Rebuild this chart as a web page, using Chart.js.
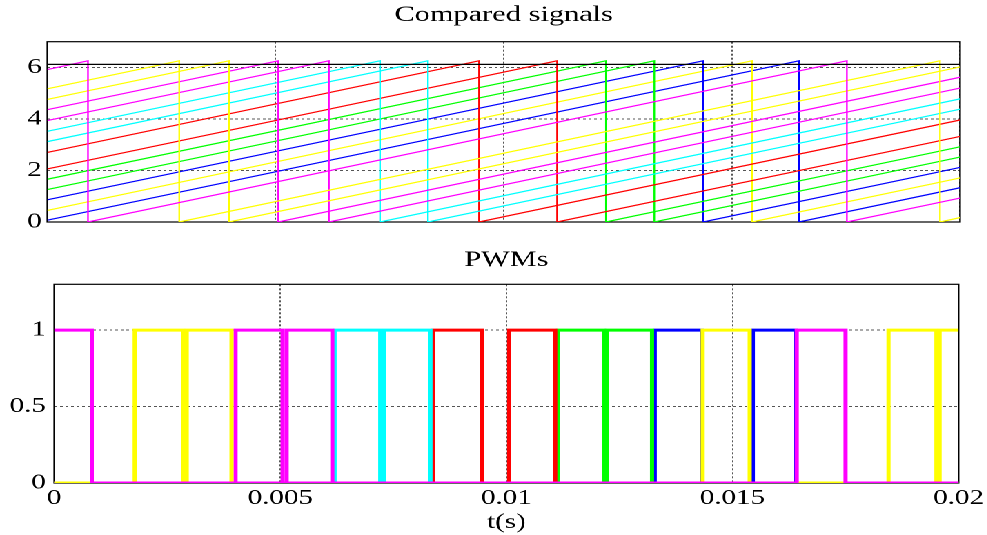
<!DOCTYPE html>
<html>
<head>
<meta charset="utf-8">
<title>Compared signals / PWMs</title>
<script src="https://cdn.jsdelivr.net/npm/chart.js@4.4.0/dist/chart.umd.min.js"></script>
<style>
    html, body { margin: 0; padding: 0; background: #fff; overflow: hidden; }
    /* the original figure is stretched sideways, so the whole drawing is too */
    #wrap { position: absolute; left: 0; top: 0; width: 716px; height: 535px; transform: scaleX(1.38); transform-origin: 0 0; }
    #chartTop { position: absolute; left: 0; top: 0; }
    #chartBottom { position: absolute; left: 0; top: 240px; }
</style>
</head>
<body>
<div id="wrap">
    <canvas id="chartTop" width="716" height="240"></canvas>
    <canvas id="chartBottom" width="716" height="295"></canvas>
</div>
<script>
// ==========================================
// DATA
// ==========================================
const timeRange = [0, 0.02];
const xTicks = [0, 0.005, 0.01, 0.015, 0.02];
const xTickLabels = ["0", "0.005", "0.01", "0.015", "0.02"];

// top plot: sawtooth carriers + reference level
const topYTicks = [0, 2, 4, 6];
const topYTickLabels = ["0", "2", "4", "6"];
const topYRange = [0, 7];
const refLevel = 6.12;
const carrierPeak = 6.26;
const carrierColors = ["#ff00ff", "#ffff00", "#ffff00", "#ff00ff", "#ff00ff", "#00ffff", "#00ffff",
                       "#ff0000", "#ff0000", "#00ff00", "#00ff00", "#0000ff", "#ffff00", "#0000ff"];
const carrierStart = [5.92, 5.17, 4.76, 4.36, 3.94, 3.52, 3.12, 2.70, 2.06, 1.66, 1.26, 0.86, 0.45, 0.07];
const carrierDrops = [[0.00089, 0.01752], [0.00289, 0.01956], [0.00398], [0.00506], [0.00617], [0.00729], [0.00834],
                      [0.00946], [0.01117], [0.01224], [0.0133], [0.01437], [0.01544], [0.01647]];
const carrierEnd = [0.93, 0.17, 6.02, 5.62, 5.20, 4.78, 4.38, 3.96, 3.32, 2.92, 2.52, 2.12, 1.71, 1.33];

// bottom plot: PWM pulses [rise, fall] per signal (first one is drawn on top)
const pwmYTicks = [0, 0.5, 1];
const pwmYTickLabels = ["0", "0.5", "1"];
const pwmYRange = [0, 1.3];
const pwmColors = ["#ff00ff", "#ffff00", "#ffff00", "#ffff00", "#ff00ff", "#ff00ff", "#00ffff",
                   "#00ffff", "#ff0000", "#ff0000", "#00ff00", "#00ff00", "#0000ff", "#0000ff"];
const pwmPulses = [
    [[0, 0.00083], [0.01642, 0.0175]],
    [[0.00178, 0.00285], [0.01845, 0.01951]],
    [[0.00293, 0.00392], [0.01958, 0.02]],
    [[0.01434, 0.01538]],
    [[0.00401, 0.00505]],
    [[0.00514, 0.00615]],
    [[0.0062, 0.00721]],
    [[0.0073, 0.00832]],
    [[0.00838, 0.00946]],
    [[0.01006, 0.01108]],
    [[0.01114, 0.01216]],
    [[0.01222, 0.01322]],
    [[0.01328, 0.01432]],
    [[0.01545, 0.0164]]
];

const fontFamily = "'Liberation Serif', 'Times New Roman', serif";

document.addEventListener("DOMContentLoaded", () => {

    // black frame round the plot area
    const framePlugin = {
        id: "frame",
        beforeDatasetsDraw(chart) {
            const { ctx, chartArea: a } = chart;
            ctx.save();
            ctx.strokeStyle = "#000";
            ctx.lineWidth = 1.2;
            ctx.strokeRect(a.left, a.top, a.right - a.left, a.bottom - a.top);
            ctx.restore();
        }
    };

    function sawtoothPoints(i) {
        const pts = [{ x: timeRange[0], y: carrierStart[i] }];
        carrierDrops[i].forEach(t => {
            pts.push({ x: t, y: carrierPeak });
            pts.push({ x: t, y: 0 });
        });
        pts.push({ x: timeRange[1], y: carrierEnd[i] });
        return pts;
    }

    function pulsePoints(pulses) {
        const pts = [];
        if (pulses[0][0] > timeRange[0]) pts.push({ x: timeRange[0], y: 0 });
        pulses.forEach(([rise, fall]) => {
            if (rise > timeRange[0]) pts.push({ x: rise, y: 0 });
            pts.push({ x: rise, y: 1 });
            pts.push({ x: fall, y: 1 });
            if (fall < timeRange[1]) pts.push({ x: fall, y: 0 });
        });
        const last = pulses[pulses.length - 1][1];
        if (last < timeRange[1]) pts.push({ x: timeRange[1], y: 0 });
        return pts;
    }

    const gridStyle = { color: "#555", lineWidth: 1, drawTicks: false };
    const borderStyle = { display: false, dash: [2, 2] };
    const tickFont = { family: fontFamily, size: 21 };
    const titleFont = { family: fontFamily, size: 22, weight: "normal" };

    // ==========================================
    // TOP: Compared signals
    // ==========================================
    const topDatasets = [{
        data: [{ x: timeRange[0], y: refLevel }, { x: timeRange[1], y: refLevel }],
        borderColor: "#000",
        borderWidth: 1.2
    }];
    carrierColors.forEach((c, i) => {
        topDatasets.push({ data: sawtoothPoints(i), borderColor: c, borderWidth: 1.2 });
    });

    new Chart(document.getElementById("chartTop"), {
        type: "line",
        data: { datasets: topDatasets },
        options: {
            responsive: false,
            devicePixelRatio: 2,
            animation: false,
            elements: { point: { radius: 0 }, line: { tension: 0 } },
            layout: { padding: { top: 2, right: 20.3, bottom: 18, left: 0 } },
            plugins: {
                legend: { display: false },
                tooltip: { enabled: false },
                title: {
                    display: true,
                    fullSize: false,
                    text: "Compared signals",
                    color: "#000",
                    font: titleFont,
                    padding: { top: 0, bottom: 13.3 }
                }
            },
            scales: {
                x: {
                    type: "linear",
                    min: timeRange[0],
                    max: timeRange[1],
                    afterBuildTicks: axis => { axis.ticks = xTicks.map(v => ({ value: v })); },
                    ticks: { display: false },
                    grid: gridStyle,
                    border: borderStyle
                },
                y: {
                    min: topYRange[0],
                    max: topYRange[1],
                    afterBuildTicks: axis => { axis.ticks = topYTicks.map(v => ({ value: v })); },
                    afterFit: axis => { axis.width = 34.3; },
                    ticks: {
                        color: "#000",
                        font: tickFont,
                        padding: 4,
                        callback: (v, idx) => topYTickLabels[idx]
                    },
                    grid: gridStyle,
                    border: borderStyle
                }
            }
        },
        plugins: [framePlugin]
    });

    // ==========================================
    // BOTTOM: PWMs
    // ==========================================
    const pwmDatasets = pwmPulses.map((p, i) => ({
        data: pulsePoints(p),
        borderColor: pwmColors[i],
        borderWidth: 3
    }));

    new Chart(document.getElementById("chartBottom"), {
        type: "line",
        data: { datasets: pwmDatasets },
        options: {
            responsive: false,
            devicePixelRatio: 2,
            animation: false,
            elements: { point: { radius: 0 }, line: { tension: 0 } },
            layout: { padding: { top: 6.8, right: 20.3, bottom: 0, left: 0 } },
            plugins: {
                legend: { display: false },
                tooltip: { enabled: false },
                title: {
                    display: true,
                    fullSize: false,
                    text: "PWMs",
                    color: "#000",
                    font: titleFont,
                    padding: { top: 0, bottom: 11.1 }
                }
            },
            scales: {
                x: {
                    type: "linear",
                    min: timeRange[0],
                    max: timeRange[1],
                    afterBuildTicks: axis => { axis.ticks = xTicks.map(v => ({ value: v })); },
                    ticks: {
                        color: "#000",
                        font: tickFont,
                        padding: 3,
                        maxRotation: 0,
                        callback: (v, idx) => xTickLabels[idx]
                    },
                    title: {
                        display: true,
                        text: "t(s)",
                        color: "#000",
                        font: tickFont,
                        padding: { top: -4.4, bottom: 0 }
                    },
                    grid: gridStyle,
                    border: borderStyle
                },
                y: {
                    min: pwmYRange[0],
                    max: pwmYRange[1],
                    afterBuildTicks: axis => { axis.ticks = pwmYTicks.map(v => ({ value: v })); },
                    afterFit: axis => { axis.width = 39.3; },
                    ticks: {
                        color: "#000",
                        font: tickFont,
                        padding: 6,
                        callback: (v, idx) => pwmYTickLabels[idx]
                    },
                    grid: gridStyle,
                    border: borderStyle
                }
            }
        },
        plugins: [framePlugin]
    });
});
</script>
</body>
</html>
